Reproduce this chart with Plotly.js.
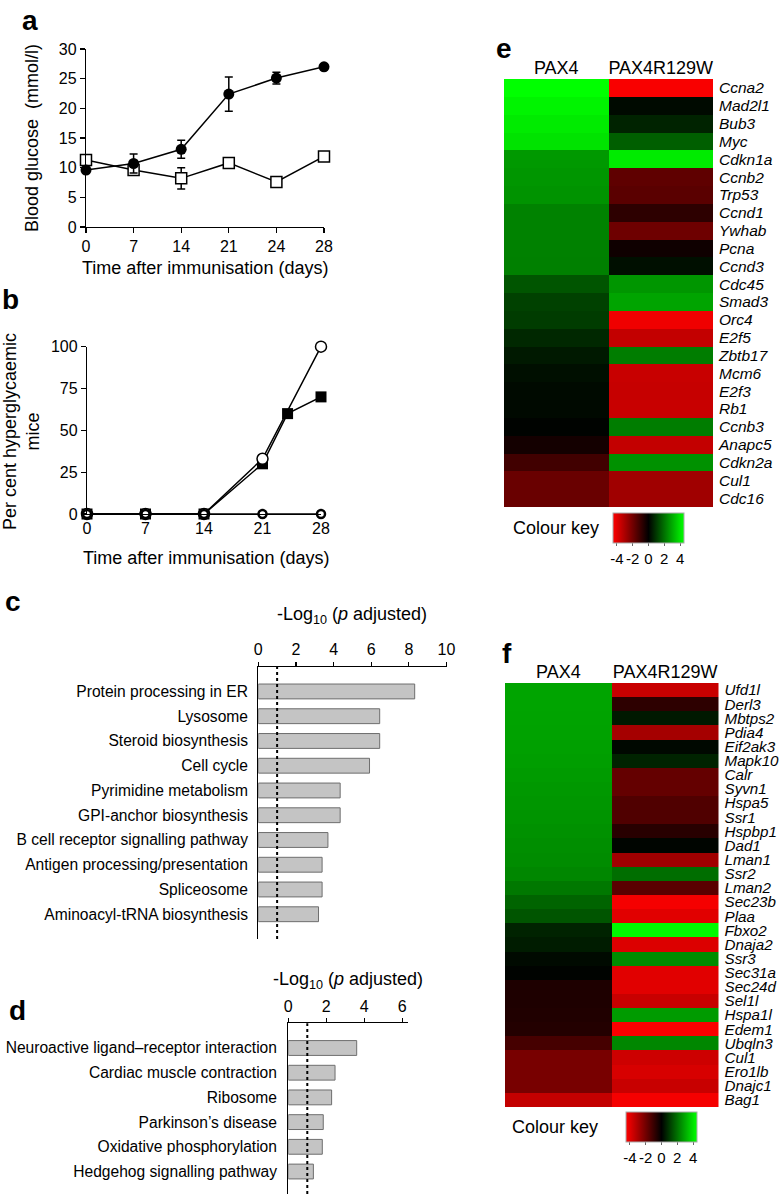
<!DOCTYPE html>
<html>
<head>
<meta charset="utf-8">
<script src="https://cdn.plot.ly/plotly-3.0.1.min.js"></script>
<style>
html,body{margin:0;padding:0;background:#fff;}
#chart{width:782px;height:1194px;}
</style>
</head>
<body>
<div id="chart"></div>
<script>
// ---------- DATA ----------
// Panel a: blood glucose (mmol/l)
const daysA = ['0', '7', '14', '21', '24', '28'];
const glucoseSquares = [11.3, 9.6, 8.2, 10.8, 7.6, 11.9];
const glucoseSquaresErr = [0.4, 0.4, 1.8, 0.4, 0.3, 0.4];
const glucoseCircles = [9.6, 10.7, 13.1, 22.4, 25.1, 27.0];
const glucoseCirclesErr = [0.4, 1.6, 1.5, 2.9, 1.0, 0.3];

// Panel b: per cent hyperglycaemic mice
const daysB1 = [0, 7, 14, 21, 24, 28];
const hyperSquares = [0, 0, 0, 30, 60, 70];
const daysB2 = [0, 7, 14, 21, 28];
const hyperCircles = [0, 0, 0, 33, 100];
const daysB3 = [0, 7, 14, 21, 28];
const hyperZero = [0, 0, 0, 0, 0];

// Panel c: pathways, -log10(p adjusted)
const pathwaysC = ['Protein processing in ER', 'Lysosome', 'Steroid biosynthesis', 'Cell cycle',
  'Pyrimidine metabolism', 'GPI-anchor biosynthesis', 'B cell receptor signalling pathway',
  'Antigen processing/presentation', 'Spliceosome', 'Aminoacyl-tRNA biosynthesis'];
const logPC = [8.31, 6.45, 6.45, 5.91, 4.35, 4.35, 3.70, 3.39, 3.39, 3.20];

// Panel d
const pathwaysD = ['Neuroactive ligand\u2013receptor interaction', 'Cardiac muscle contraction', 'Ribosome',
  'Parkinson\u2019s disease', 'Oxidative phosphorylation', 'Hedgehog signalling pathway'];
const logPD = [3.60, 2.46, 2.28, 1.84, 1.79, 1.32];

const thresholdLogP = 1;

// Panel e heatmap
const columnsHM = ['PAX4', 'PAX4R129W'];
const genesE = ['Ccna2', 'Mad2l1', 'Bub3', 'Myc', 'Cdkn1a', 'Ccnb2', 'Trp53', 'Ccnd1', 'Ywhab', 'Pcna',
  'Ccnd3', 'Cdc45', 'Smad3', 'Orc4', 'E2f5', 'Zbtb17', 'Mcm6', 'E2f3', 'Rb1', 'Ccnb3', 'Anapc5',
  'Cdkn2a', 'Cul1', 'Cdc16'];
const pax4E = [4.5, 4.3, 4.15, 4.0, 2.7, 2.65, 2.6, 2.3, 2.3, 2.28, 2.25, 1.5, 1.15, 1.06, 0.7, 0.44,
  0.26, 0.18, 0.15, 0.05, -0.35, -1.15, -1.85, -1.85];
const mutE = [-4.4, 0.18, 0.62, 1.68, 4.15, -1.68, -1.59, -0.79, -1.94, -0.26, 0.26, 2.65, 2.9, -4.24,
  -3.44, 2.2, -3.53, -3.5, -3.53, 2.2, -3.44, 2.56, -2.82, -2.82];

// Panel f heatmap
const genesF = ['Ufd1l', 'Derl3', 'Mbtps2', 'Pdia4', 'Eif2ak3', 'Mapk10', 'Calr', 'Syvn1', 'Hspa5', 'Ssr1',
  'Hspbp1', 'Dad1', 'Lman1', 'Ssr2', 'Lman2', 'Sec23b', 'Plaa', 'Fbxo2', 'Dnaja2', 'Ssr3', 'Sec31a',
  'Sec24d', 'Sel1l', 'Hspa1l', 'Edem1', 'Ubqln3', 'Cul1', 'Ero1lb', 'Dnajc1', 'Bag1'];
const pax4F = [2.9, 2.9, 2.88, 2.86, 2.82, 2.79, 2.74, 2.68, 2.65, 2.61, 2.56, 2.5, 2.47, 2.38, 2.12,
  1.76, 1.5, 0.62, 0.5, 0.18, 0.05, -0.53, -0.53, -0.56, -0.62, -1.24, -2.12, -2.12, -2.12, -3.44];
const mutF = [-3.53, -0.79, 0.44, -2.91, 0.14, 0.62, -1.76, -1.76, -1.41, -1.41, -0.71, 0.09, -2.82, 1.94,
  -1.59, -4.32, -3.97, 4.41, -3.88, 2.47, -3.97, -3.97, -3.53, 2.74, -4.41, 2.38, -3.62, -3.79, -3.53, -4.32];

const keyTicks = [-4, -2, 0, 2, 4];
const keyTickText = ['-4', '-2', '0', '2', '4'];

// ---------- LAYOUT HELPERS ----------
const W = 782, H = 1194;
const fx = p => p / W;
const fy = p => 1 - p / H;
const FONT = 'Liberation Sans, Arial, Helvetica, sans-serif';
const BLACK = '#000';

const baseAxis = {
  showline: true, linecolor: BLACK, linewidth: 1.2, showgrid: false, zeroline: false,
  ticks: 'outside', ticklen: 5, tickcolor: BLACK, tickwidth: 1.2,
  tickfont: {family: FONT, size: 16, color: BLACK}, fixedrange: true
};

const hmScale = [[0, '#ff0000'], [0.5, '#000000'], [1, '#00ff00']];

function colourbar(xLeftPx, yTopPx) {
  return {
    orientation: 'h', x: fx(xLeftPx), xanchor: 'left', y: fy(yTopPx), yanchor: 'top',
    len: 71, lenmode: 'pixels', thickness: 30, thicknessmode: 'pixels',
    xpad: 0, ypad: 0, outlinewidth: 1, outlinecolor: '#aaaaaa',
    tickmode: 'array', tickvals: keyTicks, ticktext: keyTickText, tickangle: 0,
    ticks: 'outside', ticklen: 3, tickcolor: '#666', tickfont: {family: FONT, size: 15, color: BLACK}
  };
}

const traces = [
  // Panel a
  {
    x: daysA, y: glucoseSquares, xaxis: 'x', yaxis: 'y', type: 'scatter', mode: 'lines+markers',
    error_y: {type: 'data', array: glucoseSquaresErr, color: BLACK, thickness: 1.5, width: 4},
    line: {color: BLACK, width: 1.5},
    marker: {symbol: 'square', size: 11, color: '#fff', line: {color: BLACK, width: 1.5}},
    cliponaxis: false, showlegend: false, hoverinfo: 'skip'
  },
  {
    x: daysA, y: glucoseCircles, xaxis: 'x', yaxis: 'y', type: 'scatter', mode: 'lines+markers',
    error_y: {type: 'data', array: glucoseCirclesErr, color: BLACK, thickness: 1.5, width: 4},
    line: {color: BLACK, width: 1.5},
    marker: {symbol: 'circle', size: 11, color: BLACK},
    cliponaxis: false, showlegend: false, hoverinfo: 'skip'
  },
  // Panel b
  {
    x: daysB1, y: hyperSquares, xaxis: 'x2', yaxis: 'y2', type: 'scatter', mode: 'lines+markers',
    line: {color: BLACK, width: 1.5},
    marker: {symbol: 'square', size: 11, color: BLACK},
    cliponaxis: false, showlegend: false, hoverinfo: 'skip'
  },
  {
    x: daysB2, y: hyperCircles, xaxis: 'x2', yaxis: 'y2', type: 'scatter', mode: 'lines+markers',
    line: {color: BLACK, width: 1.5},
    marker: {symbol: 'circle', size: 11, color: '#fff', line: {color: BLACK, width: 1.5}},
    cliponaxis: false, showlegend: false, hoverinfo: 'skip'
  },
  {
    x: daysB3, y: hyperZero, xaxis: 'x2', yaxis: 'y2', type: 'scatter', mode: 'lines+markers',
    line: {color: BLACK, width: 1.5},
    marker: {symbol: 'circle', size: 8, color: '#fff', line: {color: BLACK, width: 2.5}},
    cliponaxis: false, showlegend: false, hoverinfo: 'skip'
  },
  // Panel c
  {
    y: pathwaysC, x: logPC, xaxis: 'x3', yaxis: 'y3', type: 'bar', orientation: 'h', width: 0.6,
    marker: {color: '#c4c4c4', line: {color: '#6e6e6e', width: 1}},
    showlegend: false, hoverinfo: 'skip'
  },
  // Panel d
  {
    y: pathwaysD, x: logPD, xaxis: 'x4', yaxis: 'y4', type: 'bar', orientation: 'h', width: 0.6,
    marker: {color: '#c4c4c4', line: {color: '#6e6e6e', width: 1}},
    showlegend: false, hoverinfo: 'skip'
  },
  // Panel e
  {
    type: 'heatmap', x: columnsHM, y: genesE, z: genesE.map((g, i) => [pax4E[i], mutE[i]]),
    xaxis: 'x5', yaxis: 'y5', colorscale: hmScale, zmin: -4.5, zmax: 4.5,
    colorbar: colourbar(613, 513), hoverinfo: 'skip'
  },
  // Panel f
  {
    type: 'heatmap', x: columnsHM, y: genesF, z: genesF.map((g, i) => [pax4F[i], mutF[i]]),
    xaxis: 'x6', yaxis: 'y6', colorscale: hmScale, zmin: -4.5, zmax: 4.5,
    colorbar: colourbar(626, 1112), hoverinfo: 'skip'
  }
];

function ann(text, xPx, yPx, opts) {
  return Object.assign({
    text: text, x: fx(xPx), y: fy(yPx), xref: 'paper', yref: 'paper',
    xanchor: 'center', yanchor: 'middle', showarrow: false,
    font: {family: FONT, size: 18, color: BLACK}
  }, opts || {});
}
const letterFont = {family: FONT, size: 28, color: BLACK, weight: 'bold'};

const layout = {
  width: W, height: H, margin: {l: 0, r: 0, t: 0, b: 0},
  paper_bgcolor: '#fff', plot_bgcolor: 'rgba(0,0,0,0)',
  font: {family: FONT, color: BLACK}, showlegend: false,
  // Panel a
  xaxis: Object.assign({}, baseAxis, {domain: [fx(86), fx(324)], anchor: 'y', type: 'category',
    categoryarray: daysA, range: [0, 5]}),
  yaxis: Object.assign({}, baseAxis, {domain: [fy(227), fy(49)], anchor: 'x', range: [0, 30], dtick: 5}),
  // Panel b
  xaxis2: Object.assign({}, baseAxis, {domain: [fx(87), fx(321)], anchor: 'y2', range: [0, 28],
    tickmode: 'array', tickvals: [0, 7, 14, 21, 28], ticks: ''}),
  yaxis2: Object.assign({}, baseAxis, {domain: [fy(514), fy(346.7)], anchor: 'x2', range: [0, 100],
    tickvals: [0, 25, 50, 75, 100], tickmode: 'array'}),
  // Panel c
  xaxis3: Object.assign({}, baseAxis, {domain: [fx(258.3), fx(446.5)], anchor: 'y3', side: 'top',
    range: [0, 10], dtick: 2, ticklen: 4}),
  yaxis3: Object.assign({}, baseAxis, {domain: [fy(939), fy(666.7)], anchor: 'x3', type: 'category',
    range: [10, -1], ticks: '', ticklabelstandoff: 6, tickfont: {family: FONT, size: 15.6, color: BLACK}}),
  // Panel d
  xaxis4: Object.assign({}, baseAxis, {domain: [fx(288.3), fx(408)], anchor: 'y4', side: 'top',
    range: [0, 6.3], tickmode: 'array', tickvals: [0, 2, 4, 6], ticklen: 4}),
  yaxis4: Object.assign({}, baseAxis, {domain: [0, fy(1023.3)], anchor: 'x4', type: 'category',
    range: [5.91, -1], ticks: '', ticklabelstandoff: 7, tickfont: {family: FONT, size: 15.6, color: BLACK}}),
  // Panel e
  xaxis5: {domain: [fx(504), fx(713)], anchor: 'y5', side: 'top', showline: false, showgrid: false,
    zeroline: false, ticks: '', tickfont: {family: FONT, size: 18, color: BLACK}, fixedrange: true},
  yaxis5: {domain: [fy(507), fy(79)], anchor: 'x5', side: 'right', autorange: 'reversed', showline: false,
    showgrid: false, zeroline: false, ticks: '', ticklabelstandoff: 5,
    tickmode: 'array', tickvals: genesE, ticktext: genesE.map(g => '<i>' + g + '</i>'),
    tickfont: {family: FONT, size: 15.5, color: BLACK}, fixedrange: true},
  // Panel f
  xaxis6: {domain: [fx(505), fx(718.5)], anchor: 'y6', side: 'top', showline: false, showgrid: false,
    zeroline: false, ticks: '', tickfont: {family: FONT, size: 18, color: BLACK}, fixedrange: true},
  yaxis6: {domain: [fy(1107), fy(683)], anchor: 'x6', side: 'right', autorange: 'reversed', showline: false,
    showgrid: false, zeroline: false, ticks: '', ticklabelstandoff: 5,
    tickmode: 'array', tickvals: genesF, ticktext: genesF.map(g => '<i>' + g + '</i>'),
    tickfont: {family: FONT, size: 15.2, color: BLACK}, fixedrange: true},
  shapes: [
    {type: 'line', xref: 'x3', yref: 'y3 domain', x0: thresholdLogP, x1: thresholdLogP, y0: 0, y1: 1,
      line: {color: BLACK, width: 2, dash: 'dot'}},
    {type: 'line', xref: 'x4', yref: 'y4 domain', x0: thresholdLogP, x1: thresholdLogP, y0: 0, y1: 1,
      line: {color: BLACK, width: 2, dash: 'dot'}}
  ],
  annotations: [
    ann('Blood glucose\u00a0 (mmol/l)', 32, 138, {textangle: -90}),
    ann('Time after immunisation (days)', 205, 268),
    ann('Per cent hyperglycaemic<br>mice', 21, 432, {textangle: -90}),
    ann('Time after immunisation (days)', 205.5, 558),
    ann('-Log<sub>10</sub> (<i>p</i> adjusted)', 352, 615),
    ann('-Log<sub>10</sub> (<i>p</i> adjusted)', 348, 980),
    ann('Colour key', 601, 528, {xanchor: 'right'}),
    ann('Colour key', 600, 1127, {xanchor: 'right'}),
    ann('a', 30, 20, {font: letterFont}),
    ann('b', 10, 299, {font: letterFont}),
    ann('c', 13, 601, {font: letterFont}),
    ann('d', 17, 1010, {font: letterFont}),
    ann('e', 504, 49, {font: letterFont}),
    ann('f', 507, 653, {font: letterFont})
  ]
};

Plotly.newPlot('chart', traces, layout, {staticPlot: true, displayModeBar: false});
</script>
</body>
</html>
